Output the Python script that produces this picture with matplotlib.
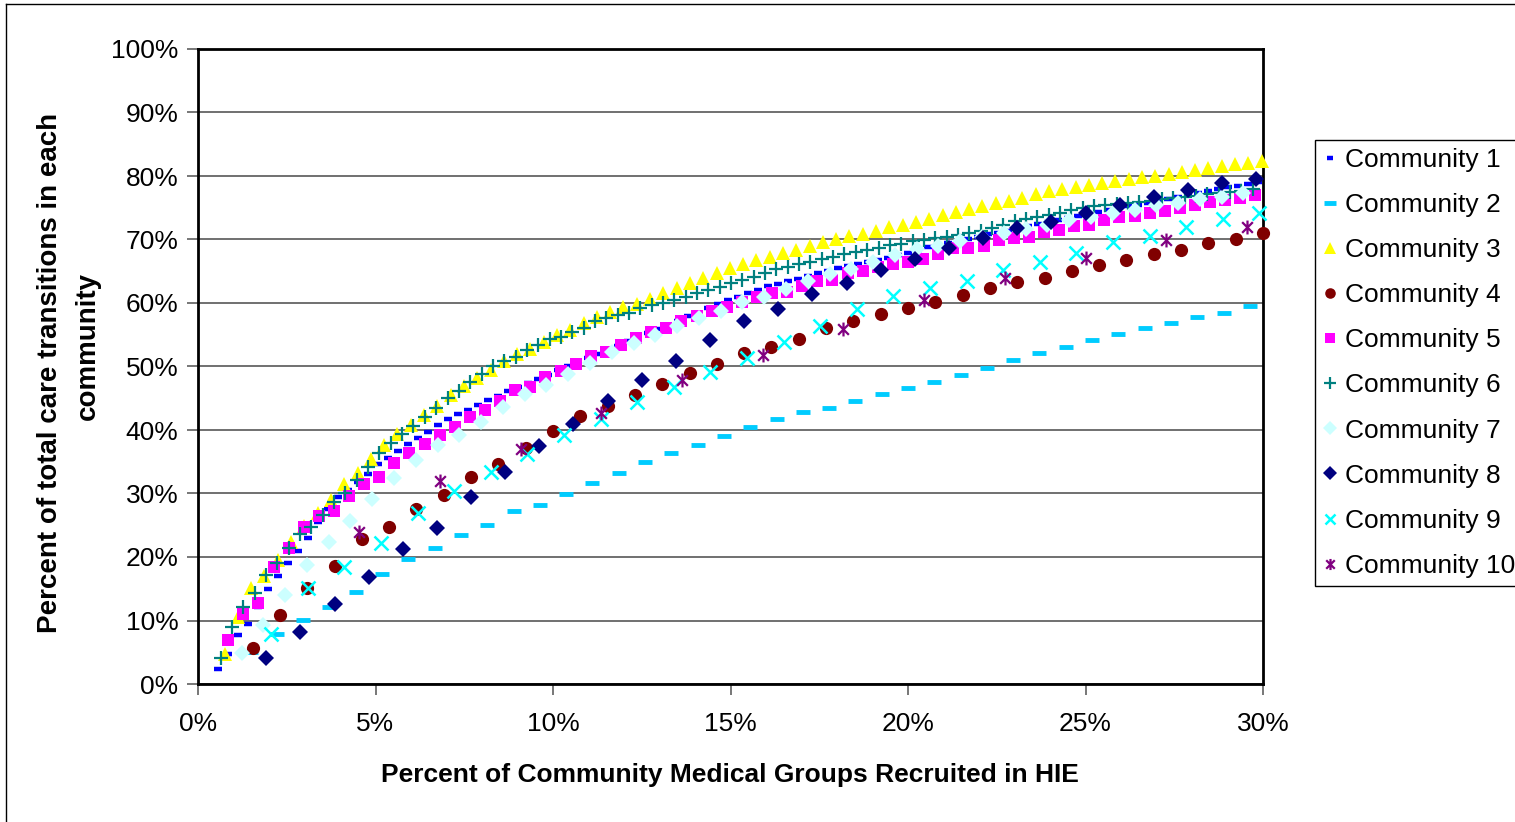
import numpy as np
import matplotlib
matplotlib.use("Agg")
import matplotlib.pyplot as plt
from matplotlib.lines import Line2D
from matplotlib.path import Path
from matplotlib.ticker import PercentFormatter

plt.rcParams['font.family'] = ['Liberation Sans', 'DejaVu Sans']

labels = ['Community %d' % i for i in range(1, 11)]
# number of medical groups in each community (sets the x step)
groups = [355, 135, 267, 130, 235, 313, 163, 104, 97, 44]

# % of care transitions covered, from the 2nd recruited group onwards
c1 = [2.3, 4.7, 7.7, 9.4, 12.2, 14.9, 17.0, 19.0, 21.0, 23.0, 25.5, 27.5, 29.5, 30.6, 31.8,
      33.0, 34.6, 35.6, 36.7, 37.8, 38.8, 39.7, 40.8, 41.8, 42.5, 43.1, 44.0, 44.7, 45.4, 46.1,
      46.8, 47.4, 48.1, 48.7, 49.4, 50.0, 50.7, 51.4, 52.0, 52.7, 53.3, 54.0, 54.6, 55.3, 55.9,
      56.6, 57.2, 57.9, 58.5, 59.2, 59.8, 60.4, 61.0, 61.5, 62.1, 62.6, 63.0, 63.4, 63.8, 64.3,
      64.7, 65.1, 65.5, 65.8, 66.2, 66.5, 66.8, 67.1, 67.5, 67.9, 68.4, 68.8, 69.1, 69.4, 69.8,
      70.1, 70.4, 70.8, 71.1, 71.4, 71.8, 72.1, 72.4, 72.7, 73.0, 73.4, 73.7, 74.0, 74.3, 74.6,
      74.9, 75.2, 75.5, 75.8, 76.1, 76.4, 76.7, 77.0, 77.3, 77.6, 77.9, 78.2, 78.4, 78.7, 79.0]
c2 = [5.1, 7.8, 10.1, 12.2, 14.5, 17.3, 19.7, 21.4, 23.4, 25.1, 27.2, 28.2, 29.9, 31.6, 33.3,
      35.0, 36.4, 37.7, 39.1, 40.5, 41.8, 42.8, 43.5, 44.6, 45.6, 46.6, 47.6, 48.6, 49.7, 51.0,
      52.1, 53.0, 54.1, 55.1, 56.1, 56.8, 57.8, 58.5, 59.5]
c3 = [4.8, 10.6, 15.1, 17.0, 19.5, 22.3, 24.9, 26.9, 28.9, 31.5, 33.3, 35.5, 37.6, 39.3, 40.8,
      42.3, 43.8, 45.5, 47.0, 48.2, 49.5, 50.8, 51.9, 52.8, 53.8, 54.9, 55.8, 56.8, 57.8, 58.6,
      59.3, 59.9, 60.6, 61.5, 62.3, 63.2, 64.0, 64.8, 65.5, 66.1, 66.7, 67.3, 67.8, 68.3, 68.9,
      69.6, 70.1, 70.5, 70.9, 71.4, 71.9, 72.3, 72.8, 73.3, 73.8, 74.3, 74.8, 75.3, 75.7, 76.1,
      76.6, 77.1, 77.6, 77.9, 78.2, 78.6, 78.9, 79.2, 79.5, 79.8, 80.0, 80.3, 80.6, 80.9, 81.3,
      81.6, 81.9, 82.0, 82.3]
c4 = [5.7, 10.9, 15.1, 18.6, 22.8, 24.8, 27.5, 29.8, 32.6, 34.7, 37.1, 39.8, 42.2, 43.8, 45.5,
      47.2, 49.0, 50.4, 52.1, 53.1, 54.4, 56.1, 57.2, 58.2, 59.2, 60.2, 61.2, 62.3, 63.3, 64.0,
      65.0, 66.0, 66.7, 67.7, 68.3, 69.4, 70.1, 71.1]
c5 = [7.0, 11.1, 12.8, 18.4, 21.4, 24.8, 26.5, 27.2, 29.6, 31.5, 32.6, 34.8, 36.4, 37.8, 39.2,
      40.4, 42.0, 43.2, 44.6, 46.3, 46.7, 48.3, 49.3, 50.4, 51.7, 52.3, 53.4, 54.5, 55.4, 56.1,
      57.2, 58.0, 58.8, 59.3, 60.2, 60.9, 61.5, 61.8, 62.6, 63.4, 63.6, 64.8, 65.0, 65.6, 66.1,
      66.5, 67.0, 67.7, 68.6, 68.6, 69.0, 69.9, 70.2, 70.4, 71.2, 71.5, 72.1, 72.3, 73.0, 73.5,
      73.7, 74.2, 74.5, 74.9, 75.4, 75.9, 76.2, 76.6, 77.0]
c6 = [4.1, 8.9, 12.2, 14.4, 17.1, 19.1, 21.4, 23.6, 24.7, 26.6, 28.7, 30.0, 32.1, 34.2, 36.3,
      37.9, 39.3, 40.6, 42.0, 43.4, 45.0, 46.2, 47.6, 48.8, 50.0, 50.8, 51.5, 52.6, 53.4, 54.4,
      54.7, 55.5, 56.0, 57.1, 57.6, 58.1, 58.5, 59.2, 59.7, 60.0, 60.5, 61.0, 61.5, 62.0, 62.5,
      63.1, 63.7, 64.1, 64.7, 65.3, 65.7, 66.2, 66.5, 67.0, 67.3, 67.7, 68.1, 68.3, 68.7, 69.1,
      69.3, 69.7, 69.9, 70.2, 70.4, 70.7, 71.1, 71.3, 71.8, 72.3, 72.9, 73.2, 73.5, 73.8, 74.2,
      74.6, 75.0, 75.2, 75.4, 75.6, 75.8, 75.9, 76.1, 76.3, 76.5, 76.7, 76.9, 77.1, 77.3, 77.5,
      77.7, 77.9]
c7 = [4.9, 9.3, 14.0, 18.8, 22.3, 25.7, 29.1, 32.4, 35.2, 37.6, 39.2, 41.3, 43.7, 45.6, 47.1,
      48.8, 50.5, 52.3, 53.7, 55.0, 56.4, 57.7, 58.7, 60.2, 61.0, 62.2, 63.4, 64.6, 65.3, 66.5,
      67.6, 68.5, 69.0, 69.7, 70.4, 71.0, 71.6, 72.3, 73.1, 73.6, 74.1, 74.6, 75.4, 75.7, 76.3,
      76.7, 77.3]
c8 = [4.1, 8.2, 12.6, 16.8, 21.2, 24.5, 29.4, 33.4, 37.5, 40.9, 44.5, 47.8, 50.9, 54.2, 57.1,
      59.1, 61.4, 63.1, 65.2, 66.9, 68.6, 70.2, 71.8, 72.8, 74.1, 75.4, 76.7, 77.8, 78.9, 79.5]
c9 = [7.9, 15.1, 18.5, 22.2, 27.0, 30.4, 33.4, 36.2, 39.2, 41.8, 44.4, 46.7, 49.2, 51.4, 53.9,
      56.3, 59.1, 61.1, 62.4, 63.5, 65.2, 66.5, 67.8, 69.6, 70.6, 72.0, 73.3, 74.2]
c10 = [23.9, 31.9, 37.0, 42.6, 47.8, 51.8, 55.9, 60.4, 63.9, 67.1, 69.9, 71.9]

series = [c1, c2, c3, c4, c5, c6, c7, c8, c9, c10]

colors = ['#0000FF', '#00CCFF', '#FFFF00', '#800000', '#FF00FF',
          '#008080', '#CCFFFF', '#000080', '#00FFFF', '#800080']

# excel style asterisk: an x with a vertical bar
star = Path([(-1, -1), (1, 1), (-1, 1), (1, -1), (0, -1.3), (0, 1.3)],
            [Path.MOVETO, Path.LINETO, Path.MOVETO, Path.LINETO, Path.MOVETO, Path.LINETO])

styles = [
    dict(marker='_', ms=6, mew=3.2),
    dict(marker='_', ms=10, mew=3.5),
    dict(marker='^', ms=10, mew=0),
    dict(marker='o', ms=9.5, mew=0),
    dict(marker='s', ms=8.5, mew=0),
    dict(marker='+', ms=10, mew=1.6),
    dict(marker='D', ms=8.5, mew=0),
    dict(marker='D', ms=8.5, mew=0),
    dict(marker='x', ms=9.5, mew=1.8),
    dict(marker=star, ms=10, mew=1.6),
]

fs = 19

fig = plt.figure(figsize=(15.15, 8.22), dpi=100)
ax = fig.add_axes([198 / 1515, 1 - 684 / 822, (1263 - 198) / 1515, (684 - 49) / 822])

handles = []
for i, y in enumerate(series):
    x = np.arange(2, 2 + len(y)) / groups[i] * 100
    h, = ax.plot(x, y, linestyle='none', color=colors[i], clip_on=False,
                 zorder=3 + i, **styles[i])
    handles.append(h)

ax.set_xlim(0, 30)
ax.set_ylim(0, 100)
ax.set_xticks(np.arange(0, 31, 5))
ax.set_yticks(np.arange(0, 101, 10))
ax.xaxis.set_major_formatter(PercentFormatter(decimals=0))
ax.yaxis.set_major_formatter(PercentFormatter(decimals=0))
ax.tick_params(axis='both', labelsize=fs, length=8, width=1.2, color='#606060')
ax.tick_params(axis='x', pad=12)
ax.tick_params(axis='y', pad=6)
ax.yaxis.grid(True, color='#707070', lw=1.4)
ax.set_axisbelow(True)
for s in ax.spines.values():
    s.set_linewidth(2)
    s.set_color('black')

fig.text(730 / 1515, 1 - 775 / 822, 'Percent of Community Medical Groups Recruited in HIE',
         ha='center', va='center', fontsize=fs, fontweight='bold')
fig.text(50 / 1515, 1 - 373 / 822, 'Percent of total care transitions in each',
         rotation=90, ha='center', va='center', fontsize=20, fontweight='bold')
fig.text(88 / 1515, 1 - 346 / 822, 'community',
         rotation=90, ha='center', va='center', fontsize=20, fontweight='bold')

leg = fig.legend(handles, labels, loc='upper left', bbox_to_anchor=(1315 / 1515, 1 - 140 / 822),
                 frameon=True, fancybox=False, edgecolor='black', framealpha=1,
                 fontsize=fs, handlelength=0.5, handletextpad=0.35, labelspacing=0.8,
                 borderpad=0.3, borderaxespad=0, markerscale=0.8)
leg.get_frame().set_linewidth(1.0)

# outer chart border (left and top edges visible)
fig.add_artist(Line2D([5.5 / 1515, 5.5 / 1515], [0, 1 - 4.5 / 822], transform=fig.transFigure,
                      color='black', lw=1))
fig.add_artist(Line2D([5.5 / 1515, 1], [1 - 4.5 / 822, 1 - 4.5 / 822], transform=fig.transFigure,
                      color='black', lw=1))

fig.savefig('out.png', dpi=100)
